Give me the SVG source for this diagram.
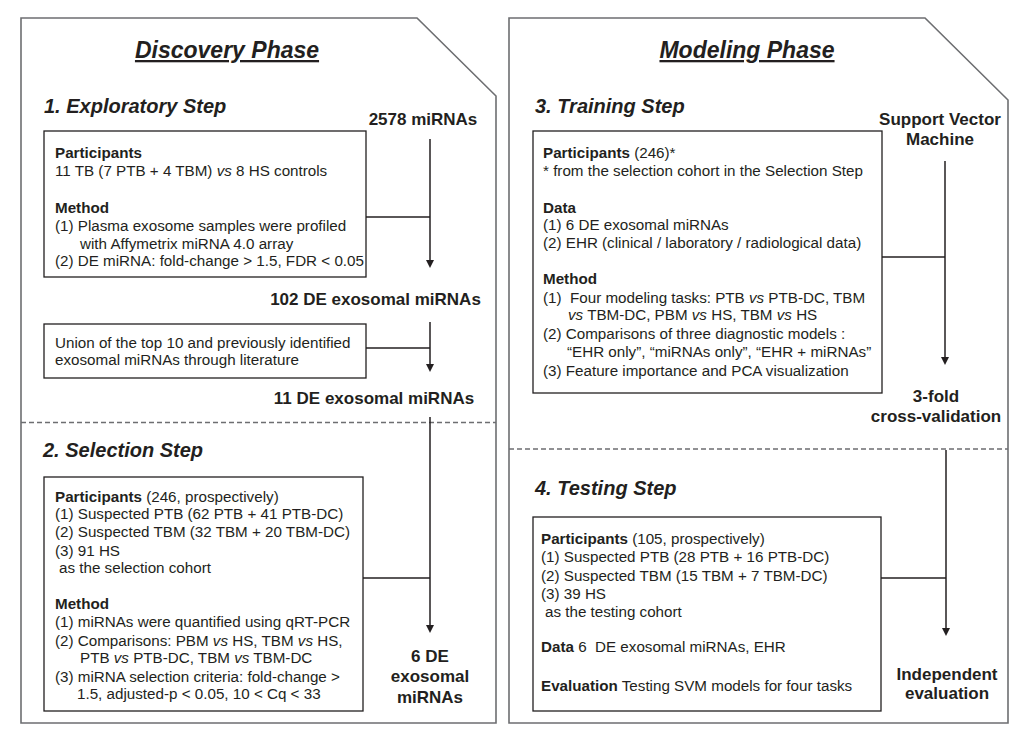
<svg xmlns="http://www.w3.org/2000/svg" width="1027" height="734" viewBox="0 0 1027 734">
<style>
text{font-family:"Liberation Sans",Arial,Helvetica,sans-serif;fill:#231f20}
.t{font-size:15.2px}
.b{font-weight:bold}
.i{font-style:italic}
.lab{font-size:17px;font-weight:bold;text-anchor:middle}
.step{font-size:20px;font-weight:bold;font-style:italic}
.title{font-size:23px;font-weight:bold;font-style:italic;text-anchor:middle;text-decoration:underline}
.panel{fill:none;stroke:#6d6e71;stroke-width:1.6}
.dash{fill:none;stroke:#6d6e71;stroke-width:1.3;stroke-dasharray:5 3}
.box{fill:#fff;stroke:#231f20;stroke-width:1.3}
.con{fill:none;stroke:#231f20;stroke-width:1.5}
</style>
<defs>
<marker id="ah" markerUnits="userSpaceOnUse" markerWidth="10" markerHeight="10" refX="2" refY="4" orient="auto">
<path d="M0,0 L8,4 L0,8 Z" fill="#231f20"/>
</marker>
</defs>
<rect width="1027" height="734" fill="#fff"/>

<g id="discovery-phase">
<path class="panel" d="M21,18 H417 L496,96 V723 H21 Z"/>
<text class="title" x="227" y="58">Discovery Phase</text>
<text class="step" x="44" y="113">1. Exploratory Step</text>
<line class="dash" x1="21" y1="422.5" x2="496" y2="422.5"/>
<text class="step" x="43" y="457">2. Selection Step</text>
</g>

<g id="modeling-phase">
<path class="panel" d="M509,18 H925 L1008,100 V723 H509 Z"/>
<text class="title" x="747" y="58">Modeling Phase</text>
<text class="step" x="535" y="113">3. Training Step</text>
<line class="dash" x1="509" y1="449" x2="1008" y2="449"/>
<text class="step" x="535" y="495">4. Testing Step</text>
</g>

<g id="connectors">
<line class="con" x1="430" y1="139" x2="430" y2="262" marker-end="url(#ah)"/>
<line class="con" x1="366" y1="217" x2="430" y2="217"/>
<line class="con" x1="430" y1="322" x2="430" y2="366" marker-end="url(#ah)"/>
<line class="con" x1="366" y1="348" x2="430" y2="348"/>
<line class="con" x1="430" y1="417" x2="430" y2="627" marker-end="url(#ah)"/>
<line class="con" x1="363" y1="578" x2="430" y2="578"/>
<line class="con" x1="945" y1="161" x2="945" y2="359" marker-end="url(#ah)"/>
<line class="con" x1="882" y1="257" x2="945" y2="257"/>
<line class="con" x1="946" y1="450" x2="946" y2="630" marker-end="url(#ah)"/>
<line class="con" x1="881" y1="578" x2="946" y2="578"/>
</g>

<g id="label-2578">
<text class="lab" x="423" y="125">2578 miRNAs</text>
</g>
<g id="label-102">
<text class="lab" x="375.5" y="305">102 DE exosomal miRNAs</text>
</g>
<g id="label-11">
<text class="lab" x="374" y="404">11 DE exosomal miRNAs</text>
</g>
<g id="label-6">
<text class="lab" x="430" y="662">6 DE</text>
<text class="lab" x="430" y="682">exosomal</text>
<text class="lab" x="430" y="703">miRNAs</text>
</g>
<g id="label-svm">
<text class="lab" x="940" y="125">Support Vector</text>
<text class="lab" x="940" y="145">Machine</text>
</g>
<g id="label-cv">
<text class="lab" x="936" y="402">3-fold</text>
<text class="lab" x="936" y="422">cross-validation</text>
</g>
<g id="label-indep">
<text class="lab" x="947" y="680">Independent</text>
<text class="lab" x="947" y="699">evaluation</text>
</g>

<g id="box-exploratory">
<rect class="box" x="44" y="131" width="322" height="146"/>
<text class="t b" x="55" y="158">Participants</text>
<text class="t" x="55" y="176">11 TB (7 PTB + 4 TBM) <tspan class="i">vs</tspan> 8 HS controls</text>
<text class="t b" x="55" y="213">Method</text>
<text class="t" x="55" y="231">(1) Plasma exosome samples were profiled</text>
<text class="t" x="80" y="249">with Affymetrix miRNA 4.0 array</text>
<text class="t" x="55" y="266">(2) DE miRNA: fold-change &gt; 1.5, FDR &lt; 0.05</text>
</g>

<g id="box-union">
<rect class="box" x="44" y="324" width="322" height="54"/>
<text class="t" x="55" y="348">Union of the top 10 and previously identified</text>
<text class="t" x="55" y="365">exosomal miRNAs through literature</text>
</g>

<g id="box-selection">
<rect class="box" x="44" y="477" width="319" height="234"/>
<text class="t" x="55" y="502"><tspan class="b">Participants</tspan> (246, prospectively)</text>
<text class="t" x="55" y="519">(1) Suspected PTB (62 PTB + 41 PTB-DC)</text>
<text class="t" x="55" y="537">(2) Suspected TBM (32 TBM + 20 TBM-DC)</text>
<text class="t" x="55" y="556">(3) 91 HS</text>
<text class="t" x="59" y="573">as the selection cohort</text>
<text class="t b" x="55" y="609">Method</text>
<text class="t" x="55" y="627">(1) miRNAs were quantified using qRT-PCR</text>
<text class="t" x="55" y="646">(2) Comparisons: PBM <tspan class="i">vs</tspan> HS, TBM <tspan class="i">vs</tspan> HS,</text>
<text class="t" x="80" y="663">PTB <tspan class="i">vs</tspan> PTB-DC, TBM <tspan class="i">vs</tspan> TBM-DC</text>
<text class="t" x="55" y="682">(3) miRNA selection criteria: fold-change &gt;</text>
<text class="t" x="77" y="699">1.5, adjusted-p &lt; 0.05, 10 &lt; Cq &lt; 33</text>
</g>

<g id="box-training">
<rect class="box" x="533" y="131" width="349" height="262"/>
<text class="t" x="543" y="158"><tspan class="b">Participants</tspan> (246)*</text>
<text class="t" x="543" y="176">* from the selection cohort in the Selection Step</text>
<text class="t b" x="543" y="213">Data</text>
<text class="t" x="543" y="230">(1) 6 DE exosomal miRNAs</text>
<text class="t" x="543" y="248">(2) EHR (clinical / laboratory / radiological data)</text>
<text class="t b" x="543" y="284">Method</text>
<text class="t" x="543" y="303" xml:space="preserve">(1)  Four modeling tasks: PTB <tspan class="i">vs</tspan> PTB-DC, TBM</text>
<text class="t" x="568" y="320"><tspan class="i">vs</tspan> TBM-DC, PBM <tspan class="i">vs</tspan> HS, TBM <tspan class="i">vs</tspan> HS</text>
<text class="t" x="543" y="339">(2) Comparisons of three diagnostic models :</text>
<text class="t" x="567" y="357">“EHR only”, “miRNAs only”, “EHR + miRNAs”</text>
<text class="t" x="543" y="376">(3) Feature importance and PCA visualization</text>
</g>

<g id="box-testing">
<rect class="box" x="533" y="517" width="348" height="194"/>
<text class="t" x="541" y="544"><tspan class="b">Participants</tspan> (105, prospectively)</text>
<text class="t" x="541" y="562">(1) Suspected PTB (28 PTB + 16 PTB-DC)</text>
<text class="t" x="541" y="581">(2) Suspected TBM (15 TBM + 7 TBM-DC)</text>
<text class="t" x="541" y="599">(3) 39 HS</text>
<text class="t" x="545" y="617">as the testing cohort</text>
<text class="t" x="541" y="652" xml:space="preserve"><tspan class="b">Data</tspan> 6  DE exosomal miRNAs, EHR</text>
<text class="t" x="541" y="691"><tspan class="b">Evaluation</tspan> Testing SVM models for four tasks</text>
</g>
</svg>
